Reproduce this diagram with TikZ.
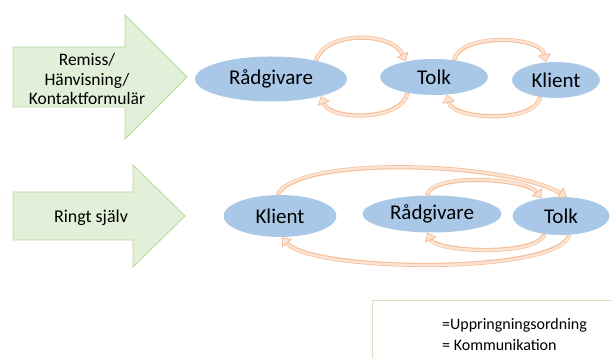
\documentclass[tikz,border=0pt]{standalone}
\usepackage{fontspec}
\setmainfont{Carlito}
\usetikzlibrary{arrows.meta,shapes.geometric}
\definecolor{arrfill}{HTML}{E2F0D9}
\definecolor{arrdraw}{HTML}{B4D89A}
\definecolor{ellfill}{HTML}{A9C8E8}
\definecolor{orline}{HTML}{F6BE96}
\definecolor{orlight}{HTML}{FCE4D4}
\definecolor{legdraw}{HTML}{D0E6C2}
\tikzset{
  bigarrow/.style={fill=arrfill, draw=arrdraw, line width=0.8pt, line join=miter},
  ell/.style={ellipse, fill=ellfill, draw=none, inner sep=0pt, font=\fontsize{21}{24}\selectfont},
  arrtext/.style={align=center, font=\fontsize{17.5}{19.5}\selectfont},
  comm/.style={draw=orline, line width=4.2pt,
    -{Triangle[width=13pt,length=8pt,fill=orlight,line width=0.8pt]},
    postaction={draw=orlight, line width=2.4pt, -, shorten >=8.5pt, shorten <=0.8pt}},
  legtext/.style={anchor=west, inner sep=0pt, font=\fontsize{16}{18}\selectfont}
}
\begin{document}
\begin{tikzpicture}[x=1pt,y=1pt]
\clip (0,0) rectangle (611,358);
\useasboundingbox (0,0) rectangle (611,358);
% big arrows
\draw[bigarrow] (13,311) -- (125,311) -- (125,343) -- (187,281) -- (125,219) -- (125,251) -- (13,251) -- cycle;
\node[arrtext] (a1) at (87,279) {Remiss/\\Hänvisning/\\Kontaktformulär};
\draw[bigarrow] (13,166) -- (133,166) -- (133,193) -- (185,142) -- (133,91) -- (133,118) -- (13,118) -- cycle;
\node[arrtext, font=\fontsize{18}{20}\selectfont] (a2) at (91,140) {Ringt själv};
% row 1
\node[ell, minimum width=152pt, minimum height=45pt] (r1) at (271,279) {Rådgivare};
\node[ell, minimum width=108pt, minimum height=36pt] (t1) at (434,281) {Tolk};
\node[ell, minimum width=88pt, minimum height=36pt] (k1) at (556,278) {Klient};
\draw[comm] (r1.22) .. controls +(8,30) and +(-14,30) .. (t1.151);
\draw[comm] (t1.211) .. controls +(-5,-28) and +(10,-25) .. (r1.341);
\draw[comm] (t1.40) .. controls +(5,27) and +(-5,27) .. (k1.120);
\draw[comm] (k1.227) .. controls +(-5,-27) and +(5,-25) .. (t1.307);
% row 2
\node[ell, minimum width=113pt, minimum height=42pt] (k2) at (280,142) {Klient};
\node[ell, minimum width=139pt, minimum height=37pt] (r2) at (432,144) {Rådgivare};
\node[ell, minimum width=97pt, minimum height=38pt] (t2) at (561,142) {Tolk};
\draw[comm] (k2.97) .. controls +(20,40) and +(-60,35) .. (t2.73);
\draw[comm] (r2.105) .. controls +(5,23) and +(-15,20) .. (t2.138);
\draw[comm] (t2.227) .. controls +(-5,-22) and +(10,-20) .. (r2.256);
\draw[comm] (t2.293) .. controls +(-10,-40) and +(30,-35) .. (k2.275);
% legend
\draw[draw=legdraw, line width=0.8pt] (372,-5) rectangle (620,58);
\node[legtext] (l1) at (442,33) {=Uppringningsordning};
\node[legtext] (l2) at (442,13) {= Kommunikation};
\end{tikzpicture}
\end{document}
